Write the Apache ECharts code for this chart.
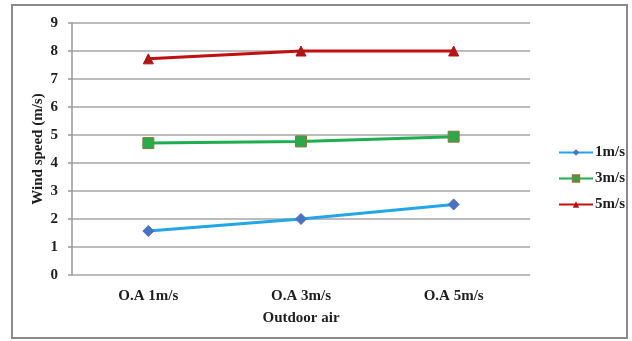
<!DOCTYPE html>
<html>
<head>
<meta charset="utf-8">
<script src="https://cdn.jsdelivr.net/npm/echarts@6/dist/echarts.min.js"></script>
<style>
  html, body { margin: 0; padding: 0; background: #fff; }
  #chart { width: 632px; height: 341px; }
</style>
</head>
<body>
<div id="chart"></div>
<script>
// Outdoor air conditions on the category axis
const categories = ['O.A 1m/s', 'O.A 3m/s', 'O.A 5m/s'];
// Measured wind speed (m/s) for each inlet speed
const speed1 = [1.57, 2.0, 2.52];
const speed3 = [4.71, 4.77, 4.94];
const speed5 = [7.72, 8.0, 8.0];
const seriesNames = ['1m/s', '3m/s', '5m/s'];
const yTicks = [0, 1, 2, 3, 4, 5, 6, 7, 8, 9];

const font = '"Liberation Serif", "Times New Roman", serif';
const textColor = '#1e1e1e';
const chart = echarts.init(document.getElementById('chart'), null, { renderer: 'canvas' });

chart.setOption({
  animation: false,
  backgroundColor: '#fff',
  graphic: [{
    type: 'rect',
    shape: { x: 12, y: 5, width: 615, height: 333 },
    style: { fill: 'none', stroke: '#8a8a8a', lineWidth: 2 },
    silent: true
  }],
  grid: { left: 72, right: 102, top: 23, bottom: 66 },
  legend: {
    orient: 'vertical',
    left: 553,
    top: 140,
    itemWidth: 34,
    itemHeight: 8,
    itemGap: 11,
    data: seriesNames,
    textStyle: { fontFamily: font, fontWeight: 'bold', fontSize: 15, color: textColor, padding: [0, 0, 0, -3] }
  },
  xAxis: {
    type: 'category',
    data: categories,
    boundaryGap: true,
    name: 'Outdoor air',
    nameLocation: 'middle',
    nameGap: 36,
    nameTextStyle: { fontFamily: font, fontWeight: 'bold', fontSize: 15, color: textColor },
    axisLine: { show: false },
    axisTick: { show: false },
    axisLabel: { fontFamily: font, fontWeight: 'bold', fontSize: 15, color: textColor, margin: 14 }
  },
  yAxis: {
    type: 'value',
    min: 0,
    max: 9,
    interval: 1,
    name: 'Wind speed (m/s)',
    nameLocation: 'middle',
    nameGap: 26,
    nameRotate: 90,
    nameMoveOverlap: false,
    nameTextStyle: { fontFamily: font, fontWeight: 'bold', fontSize: 15, color: textColor, padding: [0, 0, 0, 0] },
    axisLine: { show: true, lineStyle: { color: '#9a9a9a', width: 1.5 } },
    axisTick: { show: true, length: 4, lineStyle: { color: '#9a9a9a', width: 1.5 } },
    axisLabel: {
      fontFamily: font, fontWeight: 'bold', fontSize: 15, color: textColor, margin: 14,
      formatter: v => (yTicks.indexOf(v) >= 0 ? String(v) : '')
    },
    splitLine: { show: true, lineStyle: { color: '#a6a6a6', width: 1.5 } }
  },
  series: [
    {
      name: seriesNames[0],
      type: 'line',
      data: speed1,
      symbol: 'diamond',
      symbolSize: 11,
      lineStyle: { color: '#22a6e6', width: 3 },
      itemStyle: { color: '#4a72c0', borderColor: '#4a72c0' }
    },
    {
      name: seriesNames[1],
      type: 'line',
      data: speed3,
      symbol: 'rect',
      symbolSize: 11,
      lineStyle: { color: '#1fae4f', width: 3 },
      itemStyle: { color: '#2aa84a', borderColor: '#8a7a3a', borderWidth: 1 }
    },
    {
      name: seriesNames[2],
      type: 'line',
      data: speed5,
      symbol: 'triangle',
      symbolSize: 10,
      lineStyle: { color: '#c01010', width: 3 },
      itemStyle: { color: '#b01515', borderColor: '#b01515' }
    }
  ]
});
</script>
</body>
</html>
